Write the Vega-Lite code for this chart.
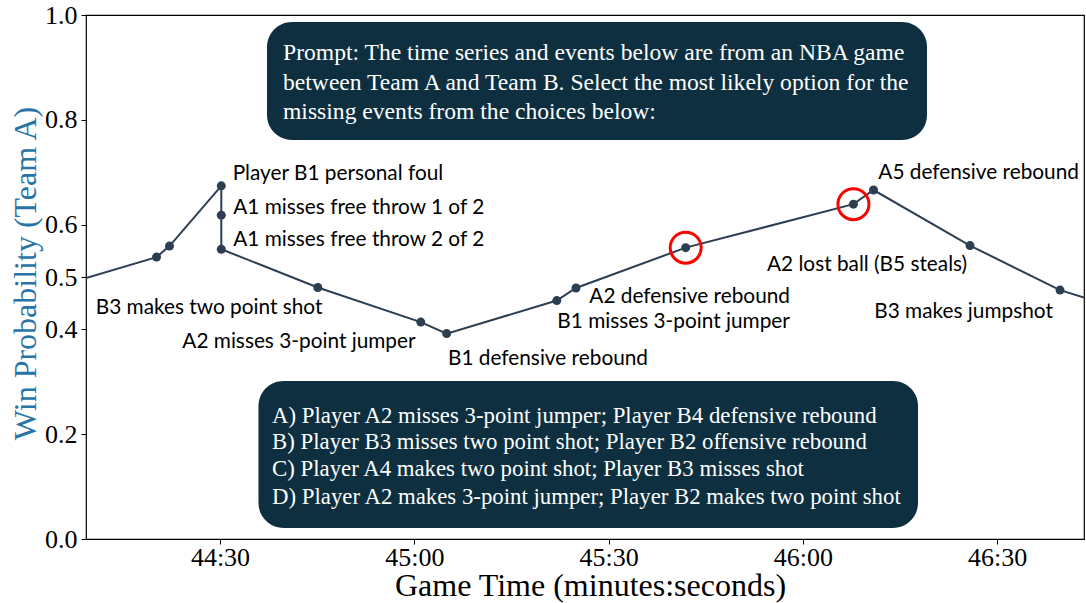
{
  "$schema": "https://vega.github.io/schema/vega-lite/v6.json",
  "width": 998,
  "height": 524,
  "autosize": {"type": "none"},
  "padding": {"left": 86, "top": 15, "right": 2, "bottom": 64},
  "background": "white",
  "config": {
    "view": {"stroke": "#000000", "strokeWidth": 1.2},
    "axis": {"grid": false, "domain": false, "tickColor": "#000000", "tickSize": 5, "tickWidth": 1, "labelColor": "#000000", "labelFont": "Liberation Serif", "labelFontSize": 26, "titleFont": "Liberation Serif", "titleFontSize": 32, "titleFontWeight": "normal"}
  },
  "datasets": {
    "series": [
      {"seq": 0, "t": 2649.31, "v": 0.498, "obs": false},
      {"seq": 1, "t": 2660.2, "v": 0.538, "obs": true},
      {"seq": 2, "t": 2662.2, "v": 0.559, "obs": true},
      {"seq": 3, "t": 2670.2, "v": 0.674, "obs": true},
      {"seq": 4, "t": 2670.2, "v": 0.618, "obs": true},
      {"seq": 5, "t": 2670.2, "v": 0.553, "obs": true},
      {"seq": 6, "t": 2685.1, "v": 0.480, "obs": true},
      {"seq": 7, "t": 2701.0, "v": 0.414, "obs": true},
      {"seq": 8, "t": 2705.0, "v": 0.392, "obs": true},
      {"seq": 9, "t": 2722.0, "v": 0.455, "obs": true},
      {"seq": 10, "t": 2724.96, "v": 0.479, "obs": true},
      {"seq": 11, "t": 2741.9, "v": 0.556, "obs": true},
      {"seq": 12, "t": 2767.8, "v": 0.639, "obs": true},
      {"seq": 13, "t": 2770.9, "v": 0.666, "obs": true},
      {"seq": 14, "t": 2785.8, "v": 0.560, "obs": true},
      {"seq": 15, "t": 2799.7, "v": 0.475, "obs": true},
      {"seq": 16, "t": 2803.4, "v": 0.461, "obs": false}
    ],
    "missing": [
      {"t": 2741.9, "v": 0.556},
      {"t": 2767.8, "v": 0.639}
    ],
    "labels": [
      {"t": 2671.96, "v": 0.6966, "label": "Player B1 personal foul"},
      {"t": 2672.05, "v": 0.6311, "label": "A1 misses free throw 1 of 2"},
      {"t": 2672.05, "v": 0.5706, "label": "A1 misses free throw 2 of 2"},
      {"t": 2650.81, "v": 0.4414, "label": "B3 makes two point shot"},
      {"t": 2664.18, "v": 0.3754, "label": "A2 misses 3-point jumper"},
      {"t": 2705.2, "v": 0.3435, "label": "B1 defensive rebound"},
      {"t": 2722.08, "v": 0.4135, "label": "B1 misses 3-point jumper"},
      {"t": 2727.02, "v": 0.4624, "label": "A2 defensive rebound"},
      {"t": 2754.45, "v": 0.5229, "label": "A2 lost ball (B5 steals)"},
      {"t": 2771.64, "v": 0.6979, "label": "A5 defensive rebound"},
      {"t": 2771.02, "v": 0.4326, "label": "B3 makes jumpshot"}
    ],
    "boxes": [
      {"box": "prompt", "t": 2677.26, "t2": 2779.16, "v": 0.9866, "v2": 0.7615},
      {"box": "choices", "t": 2675.94, "t2": 2777.77, "v": 0.3015, "v2": 0.021}
    ],
    "prompt": [
      {"t": 2679.73, "v": 0.9275, "line": "Prompt: The time series and events below are from an NBA game"},
      {"t": 2679.73, "v": 0.8702, "line": "between Team A and Team B. Select the most likely option for the"},
      {"t": 2679.73, "v": 0.8149, "line": "missing events from the choices below:"}
    ],
    "choices": [
      {"t": 2678.03, "v": 0.2347, "line": "A) Player A2 misses 3-point jumper; Player B4 defensive rebound"},
      {"t": 2678.03, "v": 0.1851, "line": "B) Player B3 misses two point shot; Player B2 offensive rebound"},
      {"t": 2678.03, "v": 0.1336, "line": "C) Player A4 makes two point shot; Player B3 misses shot"},
      {"t": 2678.03, "v": 0.0802, "line": "D) Player A2 makes 3-point jumper; Player B2 makes two point shot"}
    ]
  },
  "encoding": {
    "x": {
      "field": "t", "type": "quantitative",
      "scale": {"domain": [2649.31, 2803.4], "nice": false, "zero": false},
      "axis": {
        "values": [2670, 2700, 2730, 2760, 2790],
        "labelExpr": "floor(datum.value / 60) + ':' + (datum.value % 60 < 10 ? '0' : '') + (datum.value % 60)",
        "labelBaseline": "alphabetic",
        "labelPadding": 21,
        "labelFlush": false,
        "labelOverlap": false,
        "title": "Game Time (minutes:seconds)",
        "titleColor": "#000000",
        "titleBaseline": "alphabetic",
        "titleX": 504,
        "titleY": 56
      }
    },
    "y": {
      "field": "v", "type": "quantitative",
      "scale": {"domain": [0, 1], "nice": false, "zero": false},
      "axis": {
        "values": [0, 0.2, 0.4, 0.5, 0.6, 0.8, 1.0],
        "format": ".1f",
        "labelPadding": 4,
        "labelFlush": false,
        "labelOverlap": false,
        "title": "Win Probability (Team A)",
        "titleColor": "#2874a6",
        "titleBaseline": "alphabetic",
        "titleX": -51,
        "titleY": 258
      }
    }
  },
  "layer": [
    {
      "data": {"name": "boxes"},
      "mark": {"type": "rect", "color": "#0d2f40", "cornerRadius": 25, "opacity": 1},
      "encoding": {"x2": {"field": "t2"}, "y2": {"field": "v2"}}
    },
    {
      "data": {"name": "series"},
      "mark": {"type": "line", "color": "#2c3e50", "strokeWidth": 2, "clip": true},
      "encoding": {"order": {"field": "seq", "type": "quantitative"}}
    },
    {
      "data": {"name": "series"},
      "transform": [{"filter": "datum.obs"}],
      "mark": {"type": "point", "filled": true, "color": "#2c3e50", "size": 81, "opacity": 1}
    },
    {
      "data": {"name": "missing"},
      "mark": {"type": "point", "filled": false, "stroke": "#ff0000", "strokeWidth": 3, "size": 961, "opacity": 1}
    },
    {
      "data": {"name": "labels"},
      "mark": {"type": "text", "align": "left", "baseline": "middle", "font": "Lato", "fontSize": 20.8, "color": "#000000"},
      "encoding": {"text": {"field": "label"}}
    },
    {
      "data": {"name": "prompt"},
      "mark": {"type": "text", "align": "left", "baseline": "middle", "font": "Liberation Serif", "fontSize": 23.6, "color": "#ffffff"},
      "encoding": {"text": {"field": "line"}}
    },
    {
      "data": {"name": "choices"},
      "mark": {"type": "text", "align": "left", "baseline": "middle", "font": "Liberation Serif", "fontSize": 22.8, "color": "#ffffff"},
      "encoding": {"text": {"field": "line"}}
    }
  ]
}
